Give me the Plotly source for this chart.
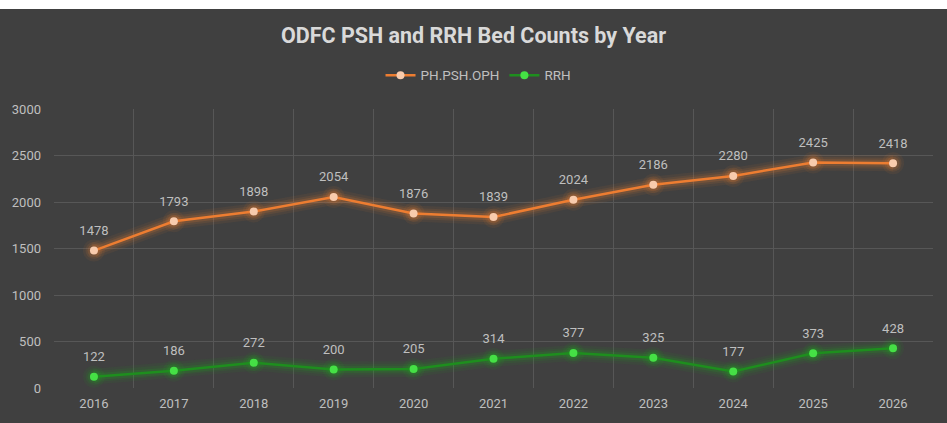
import plotly.graph_objects as go

years = [2016, 2017, 2018, 2019, 2020, 2021, 2022, 2023, 2024, 2025, 2026]
ph_psh_oph = [1478, 1793, 1898, 2054, 1876, 1839, 2024, 2186, 2280, 2425, 2418]
rrh = [122, 186, 272, 200, 205, 314, 377, 325, 177, 373, 428]
y_ticks = [0, 500, 1000, 1500, 2000, 2500, 3000]

ORANGE = "#ED7D31"
ORANGE_M = "#F8CBAD"
GREEN = "#1E8E1E"
GREEN_M = "#45E045"
TXT = "#BFBFBF"
BG = "#404040"

fig = go.Figure()

# glow layers
for vals, rgb in [(ph_psh_oph, "237,125,49"), (rrh, "30,170,30")]:
    for w, ms, a in [(16, 22, 0.07), (11, 17, 0.1), (7, 13, 0.16)]:
        fig.add_trace(go.Scatter(x=years, y=vals, mode="lines+markers",
                                 line=dict(color=f"rgba({rgb},{a})", width=w),
                                 marker=dict(size=ms, color=f"rgba({rgb},{a})"),
                                 showlegend=False, hoverinfo="skip"))

fig.add_trace(go.Scatter(x=years, y=ph_psh_oph, name="PH.PSH.OPH", mode="lines+markers",
                         line=dict(color=ORANGE, width=2.5),
                         marker=dict(size=8, color=ORANGE_M)))
fig.add_trace(go.Scatter(x=years, y=rrh, name="RRH", mode="lines+markers",
                         line=dict(color=GREEN, width=2.5),
                         marker=dict(size=8, color=GREEN_M)))

# data labels (invisible carrier markers to set offset)
for vals in [ph_psh_oph, rrh]:
    fig.add_trace(go.Scatter(x=years, y=vals, mode="text+markers",
                             marker=dict(size=18, color="rgba(0,0,0,0)"),
                             text=[str(v) for v in vals], textposition="top center",
                             textfont=dict(color=TXT, size=13),
                             showlegend=False, hoverinfo="skip"))

fig.update_layout(
    width=947, height=423,
    paper_bgcolor="white", plot_bgcolor=BG,
    font=dict(family="Roboto, Arial, sans-serif", color=TXT, size=13),
    margin=dict(l=53, r=14, t=109, b=32),
    title=dict(text="<b>ODFC PSH and RRH Bed Counts by Year</b>", x=0.5, xanchor="center",
               y=1 - 35 / 423, yanchor="middle", font=dict(size=21.5, color="#D9D9D9")),
    legend=dict(orientation="h", x=0.5 - 15 / 880, xanchor="center", y=1 + 34 / 282,
                yanchor="middle", font=dict(size=13.5, color=TXT),
                bgcolor="rgba(0,0,0,0)", itemwidth=30),
    showlegend=True,
    shapes=[dict(type="rect", xref="paper", yref="paper", x0=-0.2, x1=1.2,
                 y0=-0.3, y1=1 + 101 / 282, fillcolor=BG, line=dict(width=0), layer="below")],
)

fig.update_xaxes(range=[2015.5, 2026.5], tickvals=years, ticktext=[str(y) for y in years],
                 showgrid=False, zeroline=False, showline=False, ticks="",
                 tickfont=dict(size=13, color=TXT), ticklabelstandoff=6,
                 minor=dict(tickvals=[y + 0.5 for y in range(2015, 2027)], showgrid=True,
                            gridcolor="#575757", gridwidth=1, ticks=""))
fig.update_yaxes(range=[0, 3000], tickvals=y_ticks, showgrid=True, gridcolor="#575757",
                 zeroline=False, showline=False, ticks="", tickfont=dict(size=13, color=TXT),
                 ticklabelstandoff=12)

fig.write_html("out.html", config={"displayModeBar": False},
               post_script="document.body.style.margin='0';")
